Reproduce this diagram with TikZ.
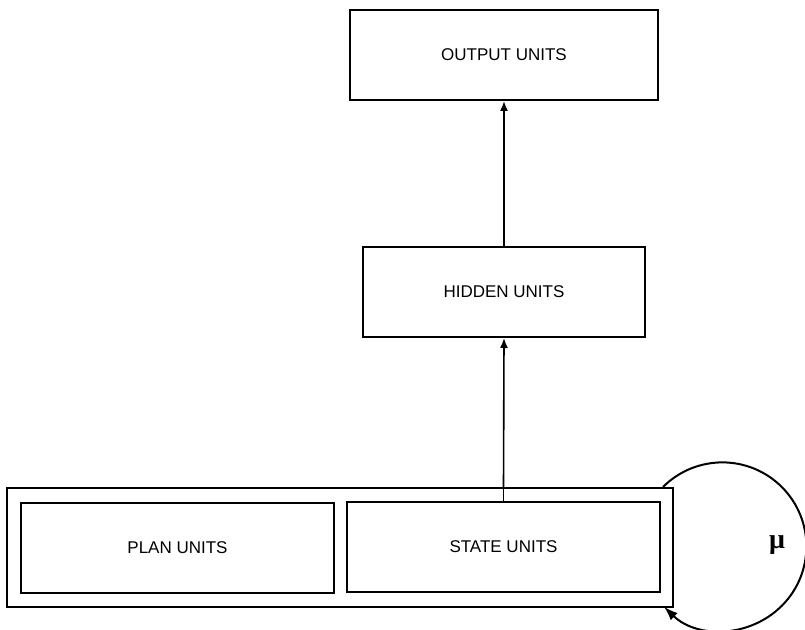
\documentclass[tikz,border=0pt]{standalone}
\usepackage{fontspec}
\setmainfont{Liberation Sans}
\newfontfamily\greekserif{Liberation Serif}
\usetikzlibrary{arrows.meta}
\begin{document}
\begin{tikzpicture}[x=1pt,y=1pt,
  unitbox/.style={draw, line width=2pt, inner sep=0pt, minimum height=90pt,
    font=\fontsize{17}{20}\selectfont},
  arr/.style={line width=1.6pt, -{Latex[length=10pt,width=8pt]}}]
\useasboundingbox (0,0) rectangle (805,629);
\node[unitbox, minimum width=308pt] (output) at (504,574) {OUTPUT UNITS};
\node[unitbox, minimum width=282pt] (hidden) at (504,337) {HIDDEN UNITS};
\node[draw, line width=2pt, minimum width=666pt, minimum height=119pt, inner sep=0pt] (outer) at (340,81.5) {};
\node[unitbox, minimum width=313pt] (plan) at (177.5,81) {PLAN UNITS};
\node[unitbox, minimum width=313pt] (state) at (503.5,82) {STATE UNITS};
\draw[line width=1.6pt] (state.north) -- (state.north |- outer.north);
\draw[arr] (state.north |- outer.north) -- (hidden.south);
\draw[arr] (hidden.north) -- (output.south);
\coordinate (loopstart) at ([xshift=-11pt]outer.north east);
\draw[line width=2pt, -{Latex[length=14pt,width=10pt]}] (loopstart) arc[start angle=135, end angle=-134, radius=84];
\node[font=\greekserif\bfseries\fontsize{28}{32}\selectfont] (mu) at (777,84) {μ};
\end{tikzpicture}
\end{document}
